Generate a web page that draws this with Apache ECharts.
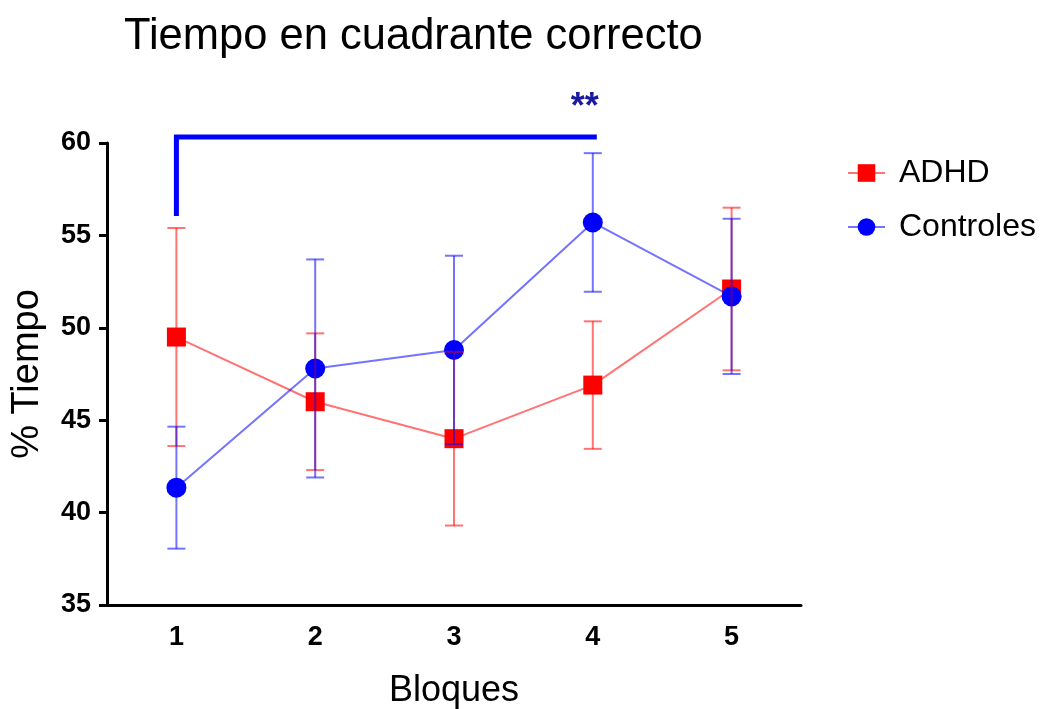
<!DOCTYPE html>
<html>
<head>
<meta charset="utf-8">
<script src="https://cdn.jsdelivr.net/npm/echarts@6/dist/echarts.min.js"></script>
<style>html,body{margin:0;padding:0;background:#fff;}#c{width:1045px;height:709px;}</style>
</head>
<body>
<div id="c"></div>
<script>
var categories = ['1', '2', '3', '4', '5'];
var adhdMean = [49.5, 46.0, 44.0, 46.9, 52.1];
var adhdErr = [5.9, 3.7, 4.7, 3.45, 4.4];
var ctrlMean = [41.35, 47.8, 48.8, 55.7, 51.7];
var ctrlErr = [3.3, 5.9, 5.1, 3.75, 4.2];
var yTicks = [35, 40, 45, 50, 55, 60];
var seriesNames = ['ADHD', 'Controles'];
var bracketFrom = 0, bracketTo = 3, bracketTop = 60.32, bracketBottom = 56.05;
var sigLabel = '**', sigY = 61.9;

var FONT = 'Arial, "Liberation Sans", sans-serif';
var redLine = 'rgba(255,0,0,0.55)', blueLine = 'rgba(0,0,255,0.55)';

function errData(mean, err) {
  return mean.map(function (m, i) { return [i, m - err[i], m + err[i]]; });
}
function errRender(color) {
  return function (params, api) {
    var x = api.value(0);
    var lo = api.coord([x, api.value(1)]);
    var hi = api.coord([x, api.value(2)]);
    var hw = 9;
    var st = { stroke: color, lineWidth: 2 };
    return { type: 'group', children: [
      { type: 'line', shape: { x1: lo[0], y1: lo[1], x2: hi[0], y2: hi[1] }, style: st },
      { type: 'line', shape: { x1: hi[0] - hw, y1: hi[1], x2: hi[0] + hw, y2: hi[1] }, style: st },
      { type: 'line', shape: { x1: lo[0] - hw, y1: lo[1], x2: lo[0] + hw, y2: lo[1] }, style: st }
    ]};
  };
}

var chart = echarts.init(document.getElementById('c'), null, { renderer: 'canvas' });
chart.setOption({
  animation: false,
  backgroundColor: '#fff',
  title: {
    text: 'Tiempo en cuadrante correcto', left: 119, top: 10,
    textStyle: { fontFamily: FONT, fontSize: 43.5, fontWeight: 'normal', color: '#000' }
  },
  legend: {
    orient: 'vertical', left: 842, top: 152, itemGap: 22, itemWidth: 37, itemHeight: 22,
    data: seriesNames,
    textStyle: { fontFamily: FONT, fontSize: 32, color: '#000', padding: [0, 0, 0, 9] }
  },
  grid: { left: 107, top: 143, right: 244, bottom: 104, containLabel: false, outerBoundsMode: 'none' },
  xAxis: {
    type: 'category', data: categories, boundaryGap: true,
    name: 'Bloques', nameLocation: 'middle', nameGap: 68,
    nameTextStyle: { fontFamily: FONT, fontSize: 36, color: '#000' },
    axisLine: { lineStyle: { color: '#000', width: 3 } },
    axisTick: { alignWithLabel: true, length: 8, lineStyle: { color: '#000', width: 3 } },
    axisLabel: { fontFamily: FONT, fontSize: 27, fontWeight: 'bold', color: '#000', margin: 19 },
    splitLine: { show: false }
  },
  yAxis: {
    type: 'value', min: 35, max: 60, interval: 5,
    name: '% Tiempo', nameLocation: 'middle', nameGap: 60,
    nameTextStyle: { fontFamily: FONT, fontSize: 38, color: '#000' },
    axisLine: { show: true, lineStyle: { color: '#000', width: 3 } },
    axisTick: { show: true, length: 8, lineStyle: { color: '#000', width: 3 } },
    axisLabel: { fontFamily: FONT, fontSize: 27, fontWeight: 'bold', color: '#000', margin: 16,
      formatter: function (v) { return yTicks.indexOf(v) >= 0 ? String(v) : ''; } },
    splitLine: { show: false }
  },
  series: [
    { name: 'ADHD', type: 'line', data: adhdMean, symbol: 'rect', symbolSize: 19,
      itemStyle: { color: '#ff0000' }, lineStyle: { color: redLine, width: 2 }, z: 2 },
    { name: 'Controles', type: 'line', data: ctrlMean, symbol: 'circle', symbolSize: 20,
      itemStyle: { color: '#0000ff' }, lineStyle: { color: blueLine, width: 2 }, z: 3 },
    { type: 'custom', data: errData(adhdMean, adhdErr), renderItem: errRender(redLine), z: 4, silent: true },
    { type: 'custom', data: errData(ctrlMean, ctrlErr), renderItem: errRender(blueLine), z: 5, silent: true },
    { type: 'custom', data: [[bracketFrom, bracketTo]], z: 6, silent: true, clip: false,
      renderItem: function (params, api) {
        var a = api.coord([api.value(0), bracketBottom]);
        var b = api.coord([api.value(0), bracketTop]);
        var c = api.coord([api.value(1), bracketTop]);
        var s = api.coord([api.value(1), sigY]);
        return { type: 'group', children: [
          { type: 'polyline', shape: { points: [a, b, [c[0] + 4, c[1]]] },
            style: { stroke: '#0000ff', lineWidth: 5, fill: null, lineJoin: 'miter' } },
          { type: 'text', x: s[0] - 8, y: s[1],
            style: { text: sigLabel, fill: '#1a1aa0', font: 'bold 36px ' + FONT,
              textAlign: 'center', textVerticalAlign: 'middle' } }
        ]};
      } }
  ]
});
</script>
</body>
</html>
